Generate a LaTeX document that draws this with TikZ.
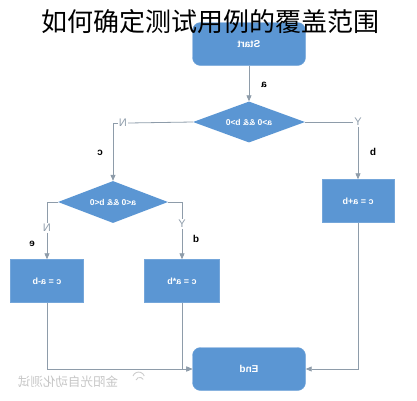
\documentclass[tikz,border=0pt]{standalone}
\usepackage{fontspec}
\usepackage{graphicx}
\setmainfont{Liberation Sans}
\newfontfamily\cjkfont{Noto Sans CJK SC}
\usetikzlibrary{shapes.geometric,arrows.meta}
\definecolor{boxblue}{HTML}{5B96D3}
\definecolor{linegray}{HTML}{8E9CAA}
\newcommand{\flip}[1]{\reflectbox{#1}}
\tikzset{
  term/.style={draw=boxblue!85!white, fill=boxblue, rounded corners=8pt, minimum width=113pt, minimum height=43pt, text=white, font=\bfseries\fontsize{10}{12}\selectfont},
  proc/.style={draw=boxblue!85!white, fill=boxblue, minimum width=73pt, minimum height=43pt, text=white, font=\bfseries\fontsize{9}{11}\selectfont},
  cond/.style={diamond, fill=boxblue, inner sep=0pt, aspect=2.7, text=white, font=\bfseries\fontsize{8.5}{10}\selectfont},
  link/.style={draw=linegray, line width=0.8pt},
  flow/.style={link, -{Triangle[length=6pt,width=5pt]}},
  tag/.style={font=\bfseries\fontsize{10}{12}\selectfont},
  yn/.style={text=linegray, inner sep=1pt, font=\fontsize{11}{12}\selectfont}
}
\begin{document}
\begin{tikzpicture}[x=1pt,y=-1pt]
        \useasboundingbox (0,0) rectangle (417,400);
        \node (start) [term] at (249,44) {\flip{Start}};
        \node (title) at (210,22) {\cjkfont\fontsize{26}{28}\selectfont 如何确定测试用例的覆盖范围};
        \node (d1) [cond, minimum width=112pt, minimum height=41pt] at (249,122) {\flip{a>0 \&\& b>0}};
        \node (y1) [yn] at (358,122) {Y};
        \node (n1) [yn] at (123,123) {\flip{N}};
        \node (add) [proc, minimum width=72pt] at (358,201) {\flip{c = a+b}};
        \node (d2) [cond, minimum width=110pt, minimum height=42pt] at (113,202) {\flip{a<0 \&\& b<0}};
        \node (n2) [yn] at (47,228) {\flip{N}};
        \node (y2) [yn] at (182,224) {Y};
        \node (sub) [proc] at (47,281) {\flip{c = a-b}};
        \node (mul) [proc, minimum width=75pt] at (182,281) {\flip{c = a*b}};
        \node (end) [term] at (249,369) {\flip{End}};
        \node (la) [tag] at (264,85) {\flip{a}};
        \node (lb) [tag] at (373,152) {\flip{b}};
        \node (lc) [tag] at (100,153) {\flip{c}};
        \node (le) [tag] at (32,244) {\flip{e}};
        \node (ld) [tag] at (196,239) {\flip{d}};
        \node (mark) [text=gray!45, font=\cjkfont\fontsize{12.5}{14}\selectfont] at (68,382) {\flip{金阳光自动化测试}};
        \draw[gray!40, line width=0.9pt] (133,376) arc (200:340:6) (136,380) arc (200:330:4);
        \draw[flow] (start) -- (d1);
        \draw[link] (d1.east) -- (y1.west);
        \draw[flow] (y1.south) -- (add.north);
        \draw[link] (d1.west) -- (n1.east);
        \draw[flow] (n1.west) -| (d2.north);
        \draw[link] (d2.west) -| (n2.north);
        \draw[flow] (n2.south) -- (sub.north);
        \draw[link] (d2.east) -| (y2.north);
        \draw[flow] (y2.south) -- (mul.north);
        \draw[flow] (sub.south) |- (end.west);
        \draw[flow] (mul.south) |- (end.west);
        \draw[flow] (add.south) |- (end.east);
      \end{tikzpicture}
\end{document}
